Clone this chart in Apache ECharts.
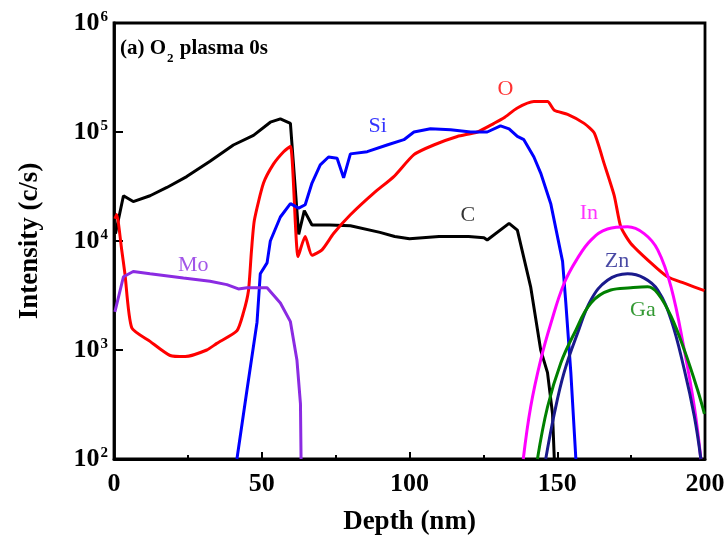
<!DOCTYPE html>
<html><head><meta charset="utf-8">
<script src="https://cdn.jsdelivr.net/npm/echarts@6/dist/echarts.min.js"></script>
<style>html,body{margin:0;padding:0;background:#fff}#c{width:727px;height:537px}</style>
</head><body><div id="c"></div>
<script>
// ---- data (depth nm, intensity c/s) ----
const cDepth = [0.5, 3.2, 6.5, 12.2, 17.9, 24.6, 32.5, 40.4, 47.2, 52.9, 56.3, 59.7, 62.5, 64.4, 67, 73, 80, 90, 95, 100, 110, 120, 125.2, 126.3, 133.7, 136.5, 141, 144.4, 146.7, 148.4, 149];
const cVal   = [1.17e4, 2.6e4, 2.3e4, 2.6e4, 3.1e4, 3.9e4, 5.4e4, 7.6e4, 9.3e4, 1.23e5, 1.32e5, 1.2e5, 1.15e4, 1.9e4, 1.4e4, 1.4e4, 1.38e4, 1.2e4, 1.1e4, 1.05e4, 1.1e4, 1.1e4, 1.07e4, 1.02e4, 1.45e4, 1.26e4, 3.8e3, 1.0e3, 620, 260, 100];

const oDepth = [0.3, 0.9, 2.6, 3.7, 6, 12.2, 19, 24.1, 31.4, 34.8, 41.6, 43.8, 45.5, 46.5, 47.5, 50.6, 54, 57.4, 59.7, 62.3, 64.7, 67, 70.4, 74.3, 80, 87.9, 94.7, 101.5, 108.2, 116.2, 123, 128.6, 132, 136.5, 142.1, 146.7, 149, 153.5, 159.1, 162.5, 165.9, 169.3, 171.5, 174.9, 181.7, 187.3, 193, 199.8];
const oVal   = [1.6e4, 1.75e4, 8.3e3, 5.0e3, 1.6e3, 1.2e3, 890, 870, 1000, 1150, 1500, 2200, 3500, 8000, 1.55e4, 3.4e4, 5.1e4, 6.6e4, 7.4e4, 7.2e3, 1.1e4, 7.4e3, 8.3e3, 1.17e4, 1.74e4, 2.75e4, 3.9e4, 6.2e4, 7.6e4, 9.1e4, 1.0e5, 1.2e5, 1.35e5, 1.66e5, 1.9e5, 1.9e5, 1.58e5, 1.45e5, 1.2e5, 9.8e4, 5.1e4, 2.6e4, 1.35e4, 9.5e3, 6.3e3, 4.7e3, 4.1e3, 3.5e3];

const siDepth = [41.6, 45, 48.4, 49.5, 51.8, 52.9, 56.3, 59.7, 62.5, 64.7, 67, 69.8, 72.6, 75.5, 77.7, 80, 85.7, 92.4, 98.1, 101.5, 107.1, 113.9, 120.7, 126.3, 130.8, 133.7, 136.5, 138.7, 142.1, 144.4, 147.8, 151.8, 152.9, 154.6, 156.3];
const siVal   = [100, 430, 1800, 5000, 6300, 1.0e4, 1.66e4, 2.2e4, 2.0e4, 2.15e4, 3.4e4, 5.0e4, 5.9e4, 5.75e4, 3.8e4, 6.3e4, 6.6e4, 7.6e4, 8.5e4, 1.0e5, 1.07e5, 1.05e5, 1.0e5, 1.0e5, 1.14e5, 1.07e5, 9.1e4, 8.5e4, 5.9e4, 4.2e4, 2.2e4, 6.5e3, 2.7e3, 620, 100];

const moDepth = [0.3, 3.2, 6.5, 12.2, 23.5, 32.5, 38.2, 42.1, 45, 51.8, 56.3, 59.7, 61.9, 63.1, 63.3];
const moVal   = [2240, 4700, 5250, 5000, 4570, 4270, 3980, 3630, 3720, 3720, 2700, 1820, 810, 320, 100];

const inDepth = [138.5, 141, 144.4, 147.8, 152.3, 156.8, 161.4, 167, 173.8, 179.4, 184, 188.5, 193, 196.4, 198.6];
const inVal   = [100, 300, 810, 1740, 4070, 6900, 1.02e4, 1.29e4, 1.35e4, 1.17e4, 8300, 3800, 1000, 300, 100];

const znDepth = [146.1, 149, 152.3, 156.8, 161.4, 167, 173.8, 179.4, 184, 188.5, 193, 196.4, 198.6];
const znVal   = [100, 260, 620, 1410, 2880, 4370, 5000, 4570, 3550, 1900, 660, 245, 100];

const gaDepth = [143.3, 146.7, 151.2, 155.7, 161.4, 168.1, 174.9, 180.6, 184, 188.5, 193, 197.5, 199.8];
const gaVal   = [100, 300, 760, 1410, 2700, 3550, 3720, 3800, 3310, 2040, 1000, 430, 260];

// curve labels: name, depth, intensity
const labelNames = ['O', 'Si', 'C', 'In', 'Zn', 'Ga', 'Mo'];
const labelDepth = [132.5, 89.2, 119.7, 160.7, 170.2, 179, 26.8];
const labelVal   = [2.45e5, 1.12e5, 1.74e4, 1.8e4, 6.5e3, 2.3e3, 6.0e3];
const labelColors = ['#ff0000', '#0000ff', '#000000', '#ff00ff', '#1a1a8c', '#008000', '#8b2be2'];

const xTicks = [0, 50, 100, 150, 200];
const yTicks = [1e2, 1e3, 1e4, 1e5, 1e6];

const zip = (a, b) => a.map((v, i) => [v, b[i]]);
const serif = '"Liberation Serif","Times New Roman",serif';

function line(name, d, v, color, smooth) {
  return { name, type: 'line', data: zip(d, v), showSymbol: false, symbol: 'none',
    smooth: smooth || false, lineStyle: { color, width: 3 }, itemStyle: { color }, z: 3, clip: true };
}

const chart = echarts.init(document.getElementById('c'), null, { renderer: 'canvas' });
chart.setOption({
  animation: false,
  backgroundColor: '#fff',
  grid: { left: 114, right: 22, top: 23, bottom: 78, containLabel: false, outerBoundsMode: 'none',
    show: true, borderColor: '#000', borderWidth: 2.8, backgroundColor: 'transparent' },
  xAxis: {
    type: 'value', min: xTicks[0], max: xTicks[xTicks.length - 1], interval: 50,
    name: 'Depth (nm)', nameLocation: 'middle', nameGap: 50,
    nameTextStyle: { fontFamily: serif, fontWeight: 'bold', fontSize: 27, color: '#000' },
    axisLine: { show: true, lineStyle: { color: '#000', width: 2.8 } },
    axisTick: { show: true, inside: true, length: 7, lineStyle: { color: '#000', width: 2 } },
    minorTick: { show: true, splitNumber: 2, length: 4, lineStyle: { color: '#000', width: 2 } },
    axisLabel: { fontFamily: serif, fontWeight: 'bold', fontSize: 26, color: '#000', margin: 12 },
    splitLine: { show: false }
  },
  yAxis: {
    type: 'log', logBase: 10, min: yTicks[0], max: yTicks[yTicks.length - 1],
    name: 'Intensity (c/s)', nameLocation: 'middle', nameGap: 70, nameRotate: 90,
    nameTextStyle: { fontFamily: serif, fontWeight: 'bold', fontSize: 27, color: '#000' },
    axisLine: { show: true, lineStyle: { color: '#000', width: 2.8 } },
    axisTick: { show: true, inside: true, length: 9, lineStyle: { color: '#000', width: 2 } },
    minorTick: { show: false },
    splitLine: { show: false },
    axisLabel: {
      margin: 6,
      formatter: function (v) { const e = Math.round(Math.log10(v)); return '{b|10}{s|' + e + '}'; },
      rich: {
        b: { fontFamily: serif, fontWeight: 'bold', fontSize: 26, color: '#000', verticalAlign: 'bottom' },
        s: { fontFamily: serif, fontWeight: 'bold', fontSize: 15, color: '#000', verticalAlign: 'top', padding: [0, 0, 12, 1] }
      }
    }
  },
  series: [
    line('C', cDepth, cVal, '#000000', false),
    line('O', oDepth, oVal, '#ff0000', 0.2),
    line('Si', siDepth, siVal, '#0000ff', false),
    line('Mo', moDepth, moVal, '#8b2be2', false),
    line('In', inDepth, inVal, '#ff00ff', 0.4),
    line('Zn', znDepth, znVal, '#1a1a8c', 0.4),
    line('Ga', gaDepth, gaVal, '#008000', 0.4),
    {
      type: 'scatter', symbolSize: 0, silent: true, z: 5,
      data: labelNames.map((n, i) => ({ value: [labelDepth[i], labelVal[i]], name: n,
        label: { show: true, position: 'inside', formatter: n, fontFamily: serif, fontSize: 22, color: labelColors[i] } }))
    }
  ],
  graphic: [{
    type: 'text', left: 120, top: 38, z: 10,
    style: {
      text: '{t|(a) O}{sub|2}{t| plasma 0s}',
      rich: {
        t: { fontFamily: serif, fontWeight: 'bold', fontSize: 21, fill: '#000', verticalAlign: 'bottom' },
        sub: { fontFamily: serif, fontWeight: 'bold', fontSize: 13, fill: '#000', verticalAlign: 'bottom', padding: [0, 1, -6, 1] }
      }
    }
  }]
});
</script>
</body></html>
